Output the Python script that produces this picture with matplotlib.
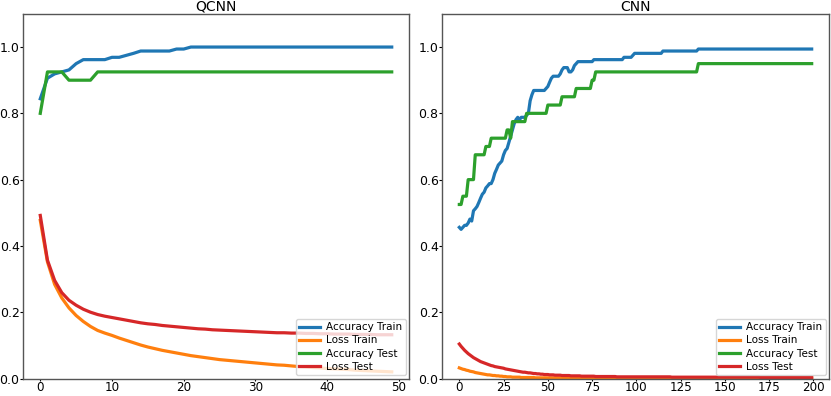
import matplotlib
matplotlib.use("Agg")
import matplotlib.pyplot as plt
import numpy as np

# ---------------- QCNN (50 epochs) ----------------
qcnn_acc_train = [
    0.844, 0.906, 0.919, 0.925, 0.931, 0.950, 0.962, 0.962, 0.962, 0.962,
    0.969, 0.969, 0.975, 0.981, 0.988, 0.988, 0.988, 0.988, 0.988, 0.994,
    0.994, 1.000, 1.000, 1.000, 1.000, 1.000, 1.000, 1.000, 1.000, 1.000,
    1.000, 1.000, 1.000, 1.000, 1.000, 1.000, 1.000, 1.000, 1.000, 1.000,
    1.000, 1.000, 1.000, 1.000, 1.000, 1.000, 1.000, 1.000, 1.000, 1.000,
]
qcnn_loss_train = [
    0.477, 0.352, 0.284, 0.243, 0.213, 0.190, 0.172, 0.157, 0.145, 0.137,
    0.130, 0.122, 0.115, 0.108, 0.101, 0.095, 0.090, 0.085, 0.081, 0.077,
    0.073, 0.069, 0.066, 0.063, 0.060, 0.057, 0.055, 0.053, 0.051, 0.049,
    0.047, 0.045, 0.043, 0.041, 0.040, 0.038, 0.036, 0.035, 0.033, 0.032,
    0.030, 0.029, 0.028, 0.027, 0.025, 0.024, 0.023, 0.022, 0.021, 0.020,
]
qcnn_acc_test = [
    0.800, 0.925, 0.925, 0.925, 0.900, 0.900, 0.900, 0.900, 0.925, 0.925,
    0.925, 0.925, 0.925, 0.925, 0.925, 0.925, 0.925, 0.925, 0.925, 0.925,
    0.925, 0.925, 0.925, 0.925, 0.925, 0.925, 0.925, 0.925, 0.925, 0.925,
    0.925, 0.925, 0.925, 0.925, 0.925, 0.925, 0.925, 0.925, 0.925, 0.925,
    0.925, 0.925, 0.925, 0.925, 0.925, 0.925, 0.925, 0.925, 0.925, 0.925,
]
qcnn_loss_test = [
    0.492, 0.357, 0.296, 0.259, 0.236, 0.221, 0.209, 0.200, 0.193, 0.188,
    0.184, 0.180, 0.176, 0.172, 0.168, 0.165, 0.163, 0.160, 0.158, 0.156,
    0.154, 0.152, 0.150, 0.149, 0.147, 0.146, 0.145, 0.144, 0.143, 0.142,
    0.141, 0.140, 0.139, 0.138, 0.138, 0.137, 0.137, 0.136, 0.136, 0.135,
    0.135, 0.134, 0.134, 0.134, 0.133, 0.133, 0.133, 0.132, 0.132, 0.132,
]

# ---------------- CNN (200 epochs) ----------------
cnn_acc_train = [
    0.456, 0.450, 0.456, 0.462, 0.462, 0.469, 0.481, 0.475, 0.506, 0.512,
    0.519, 0.531, 0.544, 0.556, 0.562, 0.575, 0.581, 0.588, 0.588, 0.600,
    0.619, 0.631, 0.644, 0.650, 0.656, 0.675, 0.688, 0.694, 0.712, 0.731,
    0.750, 0.769, 0.781, 0.788, 0.781, 0.788, 0.788, 0.788, 0.794, 0.800,
    0.838, 0.856, 0.869, 0.869, 0.869, 0.869, 0.869, 0.869, 0.869, 0.875,
    0.881, 0.894, 0.906, 0.912, 0.912, 0.912, 0.912, 0.919, 0.931, 0.938,
    0.938, 0.938, 0.925, 0.925, 0.931, 0.944, 0.950, 0.956, 0.956, 0.956,
    0.956, 0.956, 0.956, 0.956, 0.956, 0.956, 0.962, 0.962, 0.962, 0.962,
    0.962, 0.962, 0.962, 0.962, 0.962, 0.962, 0.962, 0.962, 0.962, 0.962,
    0.962, 0.962, 0.962, 0.969, 0.969, 0.969, 0.969, 0.969, 0.975, 0.981,
    0.981, 0.981, 0.981, 0.981, 0.981, 0.981, 0.981, 0.981, 0.981, 0.981,
    0.981, 0.981, 0.981, 0.981, 0.981, 0.988, 0.988, 0.988, 0.988, 0.988,
    0.988, 0.988, 0.988, 0.988, 0.988, 0.988, 0.988, 0.988, 0.988, 0.988,
    0.988, 0.988, 0.988, 0.988, 0.988, 0.994, 0.994, 0.994, 0.994, 0.994,
    0.994, 0.994, 0.994, 0.994, 0.994, 0.994, 0.994, 0.994, 0.994, 0.994,
    0.994, 0.994, 0.994, 0.994, 0.994, 0.994, 0.994, 0.994, 0.994, 0.994,
    0.994, 0.994, 0.994, 0.994, 0.994, 0.994, 0.994, 0.994, 0.994, 0.994,
    0.994, 0.994, 0.994, 0.994, 0.994, 0.994, 0.994, 0.994, 0.994, 0.994,
    0.994, 0.994, 0.994, 0.994, 0.994, 0.994, 0.994, 0.994, 0.994, 0.994,
    0.994, 0.994, 0.994, 0.994, 0.994, 0.994, 0.994, 0.994, 0.994, 0.994,
]
cnn_loss_train = [
    0.032, 0.030, 0.028, 0.027, 0.025, 0.024, 0.022, 0.021, 0.020, 0.018,
    0.017, 0.016, 0.015, 0.014, 0.013, 0.012, 0.011, 0.011, 0.010, 0.009,
    0.009, 0.008, 0.008, 0.007, 0.007, 0.006, 0.006, 0.005, 0.005, 0.005,
    0.004, 0.004, 0.004, 0.004, 0.004, 0.003, 0.003, 0.003, 0.003, 0.003,
    0.003, 0.003, 0.003, 0.002, 0.002, 0.002, 0.002, 0.002, 0.002, 0.002,
    0.002, 0.002, 0.002, 0.002, 0.002, 0.002, 0.002, 0.002, 0.002, 0.002,
    0.002, 0.002, 0.002, 0.002, 0.002, 0.001, 0.001, 0.001, 0.001, 0.001,
    0.001, 0.001, 0.001, 0.001, 0.001, 0.001, 0.001, 0.001, 0.001, 0.001,
    0.001, 0.001, 0.001, 0.001, 0.001, 0.001, 0.001, 0.001, 0.001, 0.001,
    0.001, 0.001, 0.001, 0.001, 0.001, 0.001, 0.001, 0.001, 0.001, 0.001,
    0.001, 0.001, 0.001, 0.001, 0.001, 0.001, 0.001, 0.001, 0.001, 0.001,
    0.001, 0.001, 0.001, 0.001, 0.001, 0.001, 0.001, 0.001, 0.001, 0.001,
    0.001, 0.001, 0.001, 0.001, 0.001, 0.001, 0.001, 0.001, 0.001, 0.001,
    0.001, 0.001, 0.001, 0.001, 0.001, 0.001, 0.001, 0.001, 0.001, 0.001,
    0.001, 0.001, 0.001, 0.001, 0.001, 0.001, 0.001, 0.001, 0.001, 0.001,
    0.001, 0.001, 0.001, 0.001, 0.001, 0.001, 0.001, 0.001, 0.001, 0.001,
    0.001, 0.001, 0.001, 0.001, 0.001, 0.001, 0.001, 0.001, 0.001, 0.001,
    0.001, 0.001, 0.001, 0.001, 0.001, 0.001, 0.001, 0.001, 0.001, 0.001,
    0.001, 0.001, 0.001, 0.001, 0.001, 0.001, 0.001, 0.001, 0.001, 0.001,
    0.001, 0.001, 0.001, 0.001, 0.001, 0.001, 0.001, 0.001, 0.001, 0.001,
]
cnn_acc_test = [
    0.525, 0.525, 0.550, 0.550, 0.550, 0.600, 0.600, 0.600, 0.600, 0.675,
    0.675, 0.675, 0.675, 0.675, 0.675, 0.700, 0.700, 0.700, 0.725, 0.725,
    0.725, 0.725, 0.725, 0.725, 0.725, 0.725, 0.725, 0.750, 0.750, 0.725,
    0.775, 0.775, 0.775, 0.775, 0.775, 0.775, 0.775, 0.775, 0.800, 0.800,
    0.800, 0.800, 0.800, 0.800, 0.800, 0.800, 0.800, 0.800, 0.800, 0.800,
    0.825, 0.825, 0.825, 0.825, 0.825, 0.825, 0.825, 0.825, 0.850, 0.850,
    0.850, 0.850, 0.850, 0.850, 0.850, 0.850, 0.875, 0.875, 0.875, 0.875,
    0.875, 0.875, 0.875, 0.875, 0.875, 0.900, 0.900, 0.925, 0.925, 0.925,
    0.925, 0.925, 0.925, 0.925, 0.925, 0.925, 0.925, 0.925, 0.925, 0.925,
    0.925, 0.925, 0.925, 0.925, 0.925, 0.925, 0.925, 0.925, 0.925, 0.925,
    0.925, 0.925, 0.925, 0.925, 0.925, 0.925, 0.925, 0.925, 0.925, 0.925,
    0.925, 0.925, 0.925, 0.925, 0.925, 0.925, 0.925, 0.925, 0.925, 0.925,
    0.925, 0.925, 0.925, 0.925, 0.925, 0.925, 0.925, 0.925, 0.925, 0.925,
    0.925, 0.925, 0.925, 0.925, 0.925, 0.950, 0.950, 0.950, 0.950, 0.950,
    0.950, 0.950, 0.950, 0.950, 0.950, 0.950, 0.950, 0.950, 0.950, 0.950,
    0.950, 0.950, 0.950, 0.950, 0.950, 0.950, 0.950, 0.950, 0.950, 0.950,
    0.950, 0.950, 0.950, 0.950, 0.950, 0.950, 0.950, 0.950, 0.950, 0.950,
    0.950, 0.950, 0.950, 0.950, 0.950, 0.950, 0.950, 0.950, 0.950, 0.950,
    0.950, 0.950, 0.950, 0.950, 0.950, 0.950, 0.950, 0.950, 0.950, 0.950,
    0.950, 0.950, 0.950, 0.950, 0.950, 0.950, 0.950, 0.950, 0.950, 0.950,
]
cnn_loss_test = [
    0.104, 0.097, 0.091, 0.085, 0.080, 0.075, 0.071, 0.067, 0.063, 0.060,
    0.057, 0.054, 0.051, 0.049, 0.047, 0.045, 0.043, 0.041, 0.039, 0.038,
    0.036, 0.035, 0.034, 0.033, 0.032, 0.031, 0.029, 0.028, 0.027, 0.026,
    0.025, 0.024, 0.023, 0.022, 0.021, 0.020, 0.019, 0.019, 0.018, 0.017,
    0.017, 0.016, 0.015, 0.015, 0.014, 0.014, 0.013, 0.013, 0.012, 0.012,
    0.012, 0.011, 0.011, 0.011, 0.010, 0.010, 0.010, 0.010, 0.009, 0.009,
    0.009, 0.009, 0.009, 0.008, 0.008, 0.008, 0.008, 0.008, 0.008, 0.007,
    0.007, 0.007, 0.007, 0.007, 0.007, 0.007, 0.007, 0.006, 0.006, 0.006,
    0.006, 0.006, 0.006, 0.006, 0.006, 0.006, 0.006, 0.006, 0.006, 0.005,
    0.005, 0.005, 0.005, 0.005, 0.005, 0.005, 0.005, 0.005, 0.005, 0.005,
    0.005, 0.005, 0.005, 0.005, 0.005, 0.005, 0.005, 0.005, 0.005, 0.005,
    0.005, 0.005, 0.005, 0.005, 0.005, 0.005, 0.005, 0.005, 0.005, 0.005,
    0.004, 0.004, 0.004, 0.004, 0.004, 0.004, 0.004, 0.004, 0.004, 0.004,
    0.004, 0.004, 0.004, 0.004, 0.004, 0.004, 0.004, 0.004, 0.004, 0.004,
    0.004, 0.004, 0.004, 0.004, 0.004, 0.004, 0.004, 0.004, 0.004, 0.004,
    0.004, 0.004, 0.004, 0.004, 0.004, 0.004, 0.004, 0.004, 0.004, 0.004,
    0.004, 0.004, 0.004, 0.004, 0.004, 0.004, 0.004, 0.004, 0.004, 0.004,
    0.003, 0.003, 0.003, 0.003, 0.003, 0.003, 0.003, 0.003, 0.003, 0.003,
    0.003, 0.003, 0.003, 0.003, 0.003, 0.003, 0.003, 0.003, 0.003, 0.003,
    0.003, 0.003, 0.003, 0.003, 0.003, 0.003, 0.003, 0.003, 0.003, 0.003,
]

series_labels = ["Accuracy Train", "Loss Train", "Accuracy Test", "Loss Test"]
series_colors = ["#1f77b4", "#ff7f0e", "#2ca02c", "#d62728"]
panel_titles = ["QCNN", "CNN"]

W, H = 831, 396
fig = plt.figure(figsize=(W / 100, H / 100), dpi=100)
bottom = (H - 378.5) / H
height = (378.5 - 13.9) / H
ax1 = fig.add_axes([22.7 / W, bottom, 386.6 / W, height])
ax2 = fig.add_axes([441.7 / W, bottom, 387.6 / W, height])

panels = [
    (ax1, [qcnn_acc_train, qcnn_loss_train, qcnn_acc_test, qcnn_loss_test], [0, 10, 20, 30, 40, 50]),
    (ax2, [cnn_acc_train, cnn_loss_train, cnn_acc_test, cnn_loss_test], [0, 25, 50, 75, 100, 125, 150, 175, 200]),
]

for (ax, data, xt), title in zip(panels, panel_titles):
    for vals, lab, col in zip(data, series_labels, series_colors):
        ax.plot(np.arange(len(vals)), vals, color=col, lw=2.3, label=lab)
    ax.set_ylim(0, 1.1)
    ax.set_xticks(xt)
    ax.set_yticks([0.0, 0.2, 0.4, 0.6, 0.8, 1.0])
    ax.tick_params(labelsize=9, length=2, width=0.8, colors="black")
    ax.tick_params(axis="y", pad=0.3)
    ax.tick_params(axis="x", labelsize=8.6, length=1.5, pad=0.4)
    for sp in ax.spines.values():
        sp.set_color("#555555")
        sp.set_linewidth(1.0)
    ax.set_title(title, fontsize=10, pad=1.5)
    ax.legend(loc="lower right", fontsize=7.5, borderaxespad=0.35,
              handlelength=2.0, labelspacing=0.3, borderpad=0.3,
              handletextpad=0.6, fancybox=True, framealpha=0.8)

fig.savefig("out.png", dpi=100)
